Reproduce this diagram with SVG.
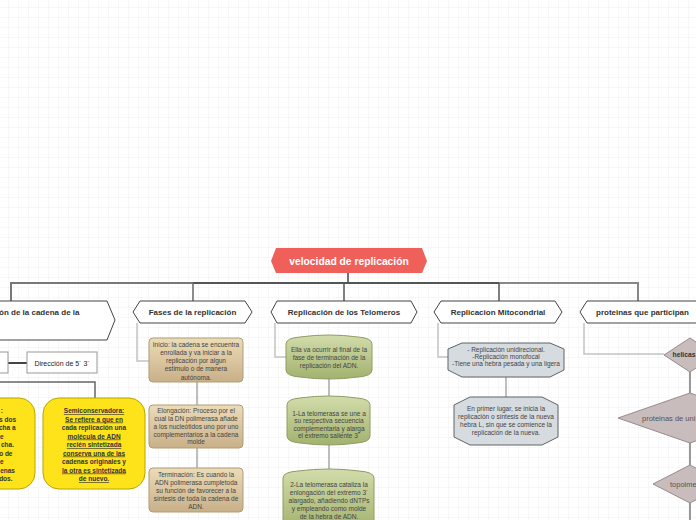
<svg xmlns="http://www.w3.org/2000/svg" width="696" height="520" viewBox="0 0 696 520">
<defs>
<pattern id="grid" x="8" y="7" width="10" height="10" patternUnits="userSpaceOnUse">
<path d="M0 0H10M0 0V10" fill="none" stroke="#efefef" stroke-width="1"/>
</pattern>
<linearGradient id="tan" x1="0" y1="0" x2="0" y2="1">
<stop offset="0" stop-color="#ecdcb8"/><stop offset="1" stop-color="#c8b088"/>
</linearGradient>
<linearGradient id="green" x1="0" y1="0" x2="0" y2="1">
<stop offset="0" stop-color="#d2dcab"/><stop offset="1" stop-color="#a2b26e"/>
</linearGradient>
<style>
text{font-family:"Liberation Sans",Arial,sans-serif}
.l1{fill:#fff;stroke:#444;stroke-width:1}
.l1t{font-size:8px;font-weight:bold;fill:#333;text-anchor:middle}
.tan{fill:url(#tan);stroke:#b29d78;stroke-width:1}
.grn{fill:url(#green);stroke:#8e9d62;stroke-width:1}
.mit{fill:#d6dbdf;stroke:#5f6468;stroke-width:1}
.dia{fill:#c9bcbc;stroke:#9a8b8b;stroke-width:1}
.yel{fill:#ffe31a;stroke:#b8a600;stroke-width:1}
.bt{font-size:6.5px;fill:#444;text-anchor:middle}
.yt{font-size:6.5px;font-weight:bold;fill:#333;text-anchor:middle}
.u{text-decoration:underline}
.c1{fill:none;stroke:#c4c4c4;stroke-width:1.5}
.c2{fill:none;stroke:#aaa;stroke-width:1.5}
</style>
</defs>
<rect width="696" height="520" fill="#fff"/>
<rect width="696" height="520" fill="url(#grid)"/>

<g id="connectors">
<line x1="348" y1="273" x2="348" y2="283" stroke="#444" stroke-width="1.5"/>
<path d="M11 301V283H193" fill="none" stroke="#777" stroke-width="2"/>
<path d="M193 283H499" fill="none" stroke="#555" stroke-width="2"/>
<path d="M499 283H638V301" fill="none" stroke="#888" stroke-width="2"/>
<line x1="193" y1="283" x2="193" y2="301" stroke="#666" stroke-width="1.5"/>
<line x1="344" y1="283" x2="344" y2="301" stroke="#555" stroke-width="1.5"/>
<line x1="499" y1="283" x2="499" y2="301" stroke="#555" stroke-width="1.5"/>
<path class="c1" d="M137 323V361H149"/>
<path class="c1" d="M275 323V357H286"/>
<path class="c1" d="M438 323V357H448"/>
<path class="c1" d="M584 323V354H664"/>
<line class="c2" x1="197" y1="382" x2="197" y2="405"/>
<line class="c2" x1="197" y1="448" x2="197" y2="468"/>
<line class="c2" x1="329" y1="377" x2="329" y2="397"/>
<line class="c2" x1="329" y1="443" x2="329" y2="470"/>
<line class="c2" x1="506" y1="377" x2="506" y2="397"/>
<line x1="690" y1="372" x2="690" y2="393" stroke="#999" stroke-width="2"/>
<line x1="690" y1="443" x2="690" y2="465" stroke="#999" stroke-width="2"/>
<line x1="690" y1="503" x2="690" y2="520" stroke="#999" stroke-width="2"/>
<line x1="8" y1="363" x2="27" y2="363" stroke="#444" stroke-width="2"/>
<path d="M0 382H95V398" fill="none" stroke="#666" stroke-width="1.5"/>
</g>

<g id="root">
<polygon points="271,261 276,248 422,248 427,261 422,273 276,273" fill="#f0605a"/>
<text x="349" y="264.5" font-size="10.3" font-weight="bold" fill="#fff" text-anchor="middle">velocidad de replicación</text>
</g>

<g id="direccion-cadena">
<polygon class="l1" points="-10,301 107,301 115,320 107,340 -10,340"/>
<text x="-1" y="315" font-size="8" font-weight="bold" fill="#333">ón de la cadena de la</text>
</g>

<g id="left-box">
<rect x="-10" y="352" width="18" height="21" fill="#fff" stroke="#999" stroke-width="1"/>
</g>

<g id="direccion-53">
<rect x="27" y="352" width="70" height="21" fill="#fff" stroke="#999" stroke-width="1"/>
<text x="62" y="365.5" font-size="7" fill="#222" text-anchor="middle">Dirección de 5´ 3´</text>
</g>

<g id="yellow-left">
<rect class="yel" x="-70" y="398" width="105" height="91" rx="16"/>
<g font-size="6.5" font-weight="bold" fill="#333" text-anchor="end">
<text x="3" y="413">:</text>
<text x="16" y="421.5">s dos</text>
<text x="15.5" y="430">cha a</text>
<text x="3.5" y="438.5">e</text>
<text x="14" y="447">cha.</text>
<text x="12.5" y="455.5">o de</text>
<text x="3.5" y="464">e</text>
<text x="15" y="472.5">enas</text>
<text x="12.5" y="481">dos.</text>
</g>
</g>

<g id="semiconservadora">
<rect class="yel" x="43" y="398" width="102" height="91" rx="16"/>
<text class="yt u" x="94" y="413">Semiconservadora:</text>
<text class="yt u" x="94" y="421.5">Se refiere a que en</text>
<text class="yt" x="94" y="430">cada replicación una</text>
<text class="yt u" x="94" y="438.5">molécula de ADN</text>
<text class="yt u" x="94" y="447">recién sintetizada</text>
<text class="yt u" x="94" y="455.5">conserva una de las</text>
<text class="yt" x="94" y="464">cadenas originales y</text>
<text class="yt u" x="94" y="472.5">la otra es sintetizada</text>
<text class="yt u" x="94" y="481">de nuevo.</text>
</g>

<g id="fases">
<polygon class="l1" points="133,312 140,301 245,301 252,312 245,323 140,323"/>
<text class="l1t" x="192.5" y="314.8">Fases de la replicación</text>
</g>

<g id="inicio">
<rect class="tan" x="149" y="338" width="94" height="44" rx="4"/>
<text class="bt" x="196" y="346.5">Inicio: la cadena se encuentra</text>
<text class="bt" x="196" y="354.8">enrollada y va iniciar a la</text>
<text class="bt" x="196" y="363">replicación por algun</text>
<text class="bt" x="196" y="371.3">estimulo o de manera</text>
<text class="bt" x="196" y="379.5">autónoma.</text>
</g>

<g id="elongacion">
<rect class="tan" x="149" y="405" width="94" height="43" rx="4"/>
<text class="bt" x="196" y="412.5">Elongación: Proceso por el</text>
<text class="bt" x="196" y="420.5">cual la DN polimerasa añade</text>
<text class="bt" x="196" y="428.5">a los nucleótidos uno por uno</text>
<text class="bt" x="196" y="436.5">complementarios a la cadena</text>
<text class="bt" x="196" y="444">molde</text>
</g>

<g id="terminacion">
<rect class="tan" x="149" y="468" width="94" height="44" rx="4"/>
<text class="bt" x="196" y="476.5">Terminación: Es cuando la</text>
<text class="bt" x="196" y="484.5">ADN polimerasa cumpletoda</text>
<text class="bt" x="196" y="492.5">su función de favorecer a la</text>
<text class="bt" x="196" y="500.5">síntesis de toda la cadena de</text>
<text class="bt" x="196" y="508.5">ADN.</text>
</g>

<g id="telomeros">
<polygon class="l1" points="271,312 277,301 411,301 417,312 411,323 277,323"/>
<text class="l1t" x="344" y="314.8">Replicación de los Telomeros</text>
</g>

<g id="telo-1">
<path class="grn" d="M286 344Q286 338 300 337Q329 333 358 337Q372 338 372 344V370Q372 376 358 377Q329 381 300 377Q286 376 286 370Z"/>
<text class="bt" x="329" y="351.5">Ella va ocurrir al final de la</text>
<text class="bt" x="329" y="359.5">fase de terminación de la</text>
<text class="bt" x="329" y="367.5">replicación del ADN.</text>
</g>

<g id="telo-2">
<path class="grn" d="M287 405Q287 399 300 398Q329 394 357 398Q370 399 370 405V436Q370 442 357 443Q329 447 300 443Q287 442 287 436Z"/>
<text class="bt" x="329" y="415.5">1-La telomerasa se une a</text>
<text class="bt" x="329" y="423">su respectiva secuencia</text>
<text class="bt" x="329" y="430.5">complementaria y alarga</text>
<text class="bt" x="329" y="438">el extremo saliente 3´</text>
</g>

<g id="telo-3">
<path class="grn" d="M283 478Q283 472 298 471Q329 467 359 471Q374 472 374 478V530H283Z"/>
<text class="bt" x="329" y="486.5">2-La telomerasa cataliza la</text>
<text class="bt" x="329" y="494.8">enlongación del extremo 3´</text>
<text class="bt" x="329" y="503">alargado, añadiendo dNTPs</text>
<text class="bt" x="329" y="511.2">y empleando como molde</text>
<text class="bt" x="329" y="519">de la hebra de ADN.</text>
</g>

<g id="mitocondrial">
<polygon class="l1" points="434,312 441,301 555,301 562,312 555,323 441,323"/>
<text class="l1t" x="498" y="314.8">Replicacion Mitocondrial</text>
</g>

<g id="mito-1">
<polygon class="mit" points="448,349 462,343 550,343 564,349 564,370 550,377 462,377 448,370"/>
<text class="bt" x="506" y="352.3">- Replicación unidirecional.</text>
<text class="bt" x="506" y="359.3">-Replicación monofocal</text>
<text class="bt" x="506" y="366.3">-Tiene una hebra pesada y una ligera</text>
</g>

<g id="mito-2">
<polygon class="mit" points="454,405 470,397 542,397 558,405 558,437 542,445 470,445 454,437"/>
<text class="bt" x="506" y="411.3">En primer lugar, se inicia la</text>
<text class="bt" x="506" y="419">replicación o síntesis de la nueva</text>
<text class="bt" x="506" y="426.7">hebra L, sin que se comience la</text>
<text class="bt" x="506" y="434.5">replicación de la nueva.</text>
</g>

<g id="proteinas">
<polygon class="l1" points="580,312 587,301 710,301 716,312 710,323 587,323"/>
<text x="596" y="314.8" font-size="8" font-weight="bold" fill="#333">proteinas que participan</text>
</g>

<g id="helicasa">
<polygon class="dia" points="664,355 690,338 716,355 690,372"/>
<text x="672.5" y="357" font-size="6.8" font-weight="bold" fill="#333">helicas</text>
</g>

<g id="proteinas-union">
<polygon class="dia" points="618,418 690,393 762,418 690,443"/>
<text x="642" y="420.7" font-size="7.5" fill="#555">proteinas de uni</text>
</g>

<g id="topoisomerasa">
<polygon class="dia" points="653,484 690,465 727,484 690,503"/>
<text x="670" y="486.7" font-size="7.5" fill="#555">topoime</text>
</g>
</svg>
